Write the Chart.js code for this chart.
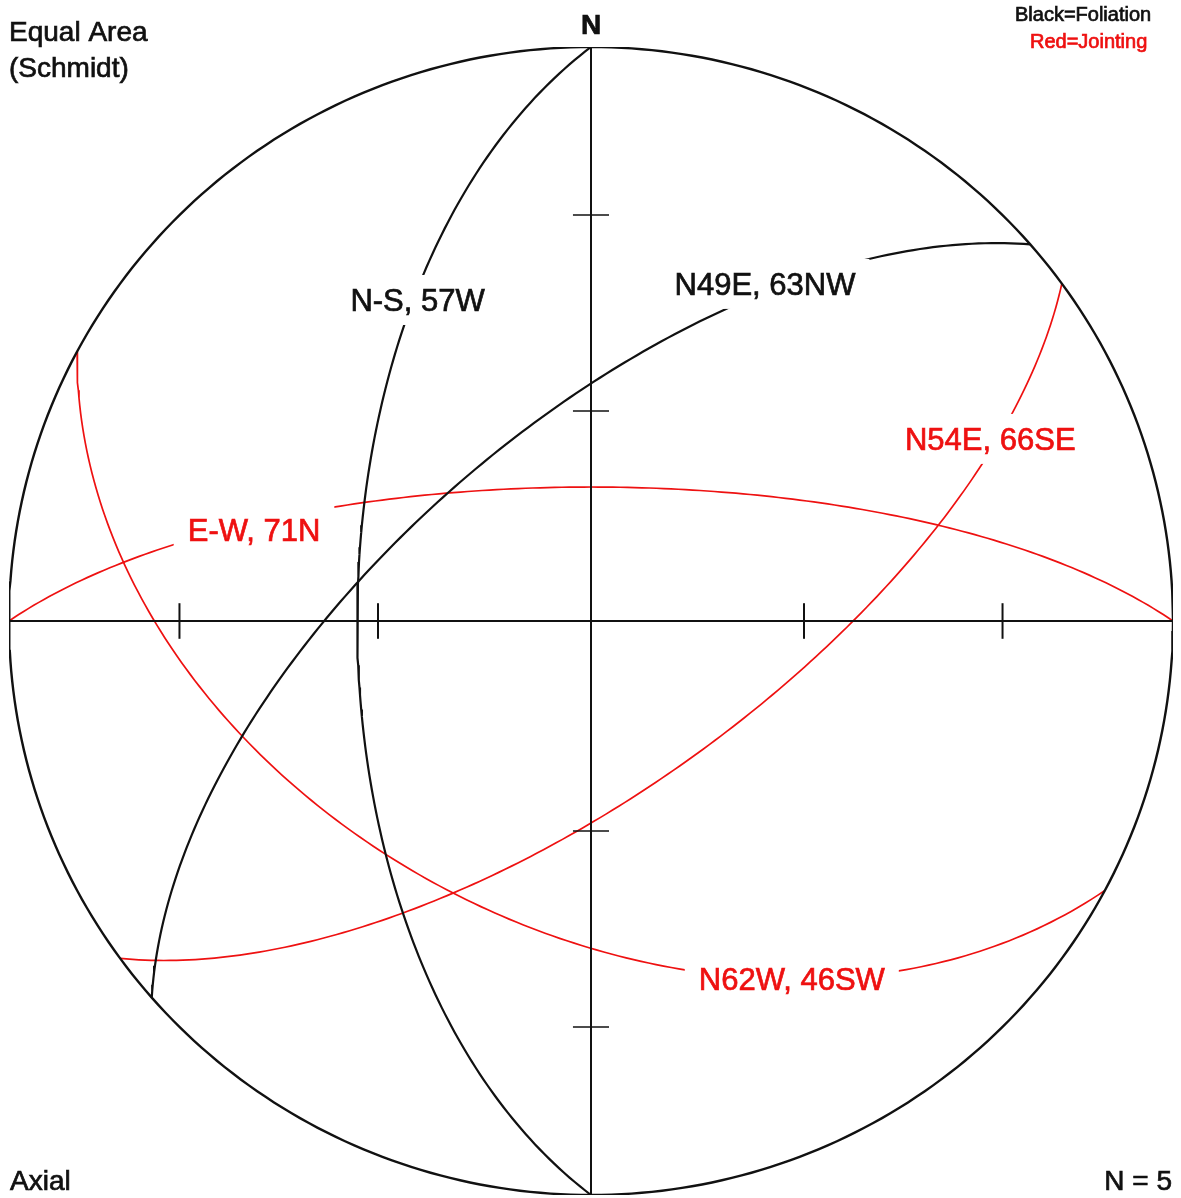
<!DOCTYPE html>
<html>
<head>
<meta charset="utf-8">
<script src="https://cdn.jsdelivr.net/npm/chart.js@4/dist/chart.umd.min.js"></script>
<style>
  html, body { margin: 0; padding: 0; background: #fff; }
  #wrap { width: 1181px; height: 1198px; position: relative; }
</style>
</head>
<body>
<div id="wrap"><canvas id="net"></canvas></div>
<script>
// planes measured on the net (strike azimuth, dip, dip direction)
const planeNames = ["N-S, 57W", "N49E, 63NW", "E-W, 71N", "N54E, 66SE", "N62W, 46SW"];
const strikes = [0, 49, 90, 54, 298];
const dips = [57, 63, 71, 66, 46];
const dipDirs = [270, 319, 0, 144, 208];
const planeKind = ["Foliation", "Foliation", "Jointing", "Jointing", "Jointing"];

// grid tick marks on the axes (degrees from centre)
const tickAngles = [30, 60];

// label anchors in net units (-1..1)
const labelX = [-0.298, 0.299, -0.579, 0.686, 0.345];
const labelY = [0.561, 0.589, 0.161, 0.319, -0.622];

const kindColor = { Foliation: "#111111", Jointing: "#ee1111" };
const kindWidth = { Foliation: 2.2, Jointing: 1.7 };

const rad = Math.PI / 180;

// equal-area (Schmidt) projection of a line, lower hemisphere
function project(trend, plunge) {
  const r = Math.SQRT2 * Math.sin((90 - plunge) * rad / 2);
  return { x: r * Math.sin(trend * rad), y: r * Math.cos(trend * rad) };
}

function greatCircle(strike, dip, dipDir) {
  const s = [Math.sin(strike * rad), Math.cos(strike * rad), 0];
  const d = [Math.sin(dipDir * rad) * Math.cos(dip * rad), Math.cos(dipDir * rad) * Math.cos(dip * rad), -Math.sin(dip * rad)];
  const pts = [];
  for (let a = 0; a <= 180; a += 1) {
    const c = Math.cos(a * rad), sn = Math.sin(a * rad);
    const v = [c * s[0] + sn * d[0], c * s[1] + sn * d[1], c * s[2] + sn * d[2]];
    const plunge = Math.asin(Math.max(-1, Math.min(1, -v[2]))) / rad;
    const trend = Math.atan2(v[0], v[1]) / rad;
    pts.push(project(trend, plunge));
  }
  return pts;
}

function primitive() {
  const pts = [];
  for (let a = 0; a <= 360; a += 1) pts.push(project(a, 0));
  return pts;
}

const datasets = [];

datasets.push({ data: primitive(), borderColor: "#111", borderWidth: 2.4 });
datasets.push({ data: [{ x: -1, y: 0 }, { x: 1, y: 0 }], borderColor: "#111", borderWidth: 2 });
datasets.push({ data: [{ x: 0, y: -1 }, { x: 0, y: 1 }], borderColor: "#111", borderWidth: 2 });

tickAngles.forEach(a => {
  const r = project(0, 90 - a).y;
  const h = 0.031;
  [r, -r].forEach(v => {
    datasets.push({ data: [{ x: v, y: -h }, { x: v, y: h }], borderColor: "#111", borderWidth: 2 });
    datasets.push({ data: [{ x: -h, y: v }, { x: h, y: v }], borderColor: "#111", borderWidth: 1.5 });
  });
});

planeNames.forEach((name, i) => {
  datasets.push({
    label: name,
    data: greatCircle(strikes[i], dips[i], dipDirs[i]),
    borderColor: kindColor[planeKind[i]],
    borderWidth: kindWidth[planeKind[i]]
  });
});

datasets.forEach(ds => {
  ds.showLine = true;
  ds.pointRadius = 0;
  ds.fill = false;
  ds.tension = 0;
});

// filled text with a thin outline so it reads as heavy as the scan
function heavyText(ctx, txt, x, y, color) {
  ctx.fillStyle = color;
  ctx.strokeStyle = color;
  ctx.lineWidth = 0.7;
  ctx.fillText(txt, x, y);
  ctx.strokeText(txt, x, y);
}

const textPlugin = {
  id: "netText",
  afterDatasetsDraw(chart) {
    const ctx = chart.ctx;
    const xs = chart.scales.x, ys = chart.scales.y;
    ctx.save();

    // plane labels, blanking the curve underneath
    ctx.font = "31px 'Liberation Sans', Arial, sans-serif";
    ctx.textAlign = "center";
    ctx.textBaseline = "alphabetic";
    planeNames.forEach((name, i) => {
      const px = xs.getPixelForValue(labelX[i]);
      const py = ys.getPixelForValue(labelY[i]);
      const w = ctx.measureText(name).width;
      const base = py + 12;
      ctx.fillStyle = "#fff";
      ctx.fillRect(px - w / 2 - 14, base - 24 - 12, w + 28, 24 + 12 + 14);
      heavyText(ctx, name, px, base, kindColor[planeKind[i]]);
    });

    // header / footer texts
    ctx.textAlign = "left";
    ctx.font = "28px 'Liberation Sans', Arial, sans-serif";
    heavyText(ctx, "Equal Area", 9, 41, "#111");
    heavyText(ctx, "(Schmidt)", 9, 77, "#111");
    heavyText(ctx, "Axial", 10, 1190, "#111");
    ctx.textAlign = "right";
    heavyText(ctx, "N = 5", 1172, 1190, "#111");

    ctx.textAlign = "center";
    ctx.font = "bold 28px 'Liberation Sans', Arial, sans-serif";
    heavyText(ctx, "N", xs.getPixelForValue(0), 34, "#111");

    ctx.textAlign = "left";
    ctx.font = "20px 'Liberation Sans', Arial, sans-serif";
    heavyText(ctx, "Black=Foliation", 1015, 21, kindColor.Foliation);
    heavyText(ctx, "Red=Jointing", 1030, 48, kindColor.Jointing);

    ctx.restore();
  }
};

new Chart(document.getElementById("net"), {
  type: "scatter",
  data: { datasets: datasets },
  options: {
    responsive: true,
    maintainAspectRatio: false,
    animation: false,
    layout: { padding: { left: 9, right: 8, top: 47, bottom: 3 } },
    scales: {
      x: { type: "linear", min: -1, max: 1, display: false },
      y: { type: "linear", min: -1, max: 1, display: false }
    },
    plugins: {
      legend: { display: false },
      tooltip: { enabled: false }
    }
  },
  plugins: [textPlugin]
});
</script>
</body>
</html>
